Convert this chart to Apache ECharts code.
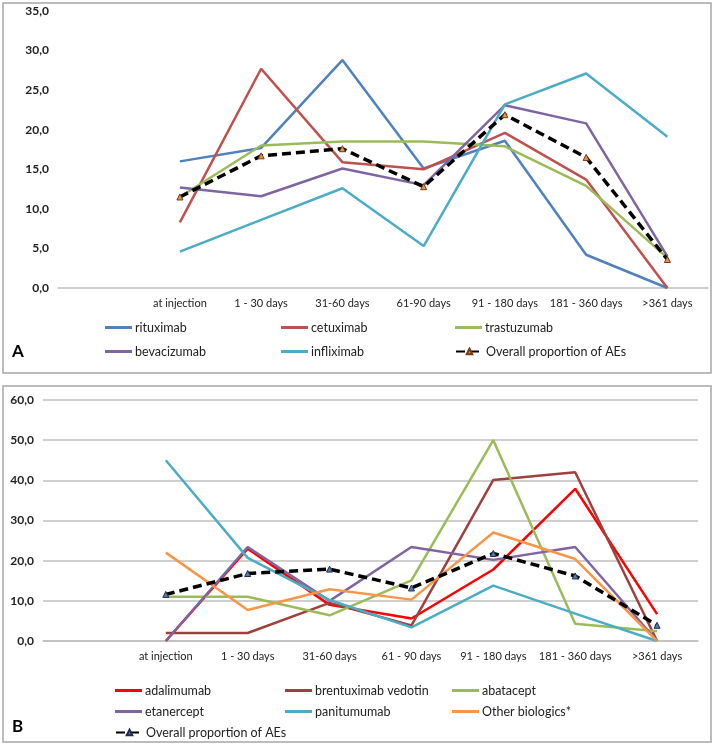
<!DOCTYPE html>
<html lang="en">
<head>
    <meta charset="utf-8" />
    <title>AEs by time after injection</title>
    <script type="text/javascript" src="https://cdn.jsdelivr.net/npm/echarts@6/dist/echarts.min.js"></script>
    <style type="text/css">
        html, body { margin: 0; padding: 0; background: #fff; }
    </style>
</head>
<body>
    <div id="main" style="width:714px;height:746px;"></div>
    <script type="text/javascript">
        // categories (first slot is blank, as in the original sheet)
        var catsA = ['', 'at injection', '1 - 30 days', '31-60 days', '61-90 days', '91 - 180 days', '181 - 360 days', '>361 days'];
        var catsB = ['', 'at injection', '1 - 30 days', '31-60 days', '61 - 90 days', '91 - 180 days', '181 - 360 days', '>361 days'];
        var yTicksA = [0, 5, 10, 15, 20, 25, 30, 35];
        var yTicksB = [0, 10, 20, 30, 40, 50, 60];

        // panel A
        var rituximab   = [null, 16.0, 17.7, 28.8, 15.1, 18.6, 4.2, 0];
        var cetuximab   = [null, 8.3, 27.7, 15.9, 15.0, 19.6, 13.7, 0];
        var trastuzumab = [null, 11.5, 18.0, 18.5, 18.5, 17.9, 12.9, 3.8];
        var bevacizumab = [null, 12.7, 11.6, 15.1, 13.0, 23.1, 20.8, 4.0];
        var infliximab  = [null, 4.6, 8.6, 12.6, 5.3, 23.2, 27.1, 19.1];
        var overallA    = [null, 11.5, 16.7, 17.6, 12.8, 21.9, 16.5, 3.6];

        // panel B
        var adalimumab  = [null, 0, 23.0, 9.0, 5.6, 17.8, 37.9, 6.7];
        var brentuximab = [null, 2.0, 2.0, 9.5, 3.9, 40.1, 42.0, 0];
        var abatacept   = [null, 11.0, 11.0, 6.4, 15.1, 50.0, 4.3, 2.4];
        var etanercept  = [null, 0, 23.4, 10.0, 23.4, 20.2, 23.4, 0];
        var panitumumab = [null, 45.0, 20.7, 10.2, 3.4, 13.8, 6.8, 0];
        var otherBio    = [null, 22.0, 7.7, 12.9, 10.3, 27.0, 20.4, 0];
        var overallB    = [null, 11.6, 16.8, 17.9, 13.2, 21.8, 16.2, 3.9];

        var font = 'Lato, "Open Sans", sans-serif';
        var myChart = echarts.init(document.getElementById('main'));

        function fmt(v) { return v.toFixed(1).replace('.', ','); }

        function plain(name, data, color, idx) {
            return {
                name: name, type: 'line', data: data,
                xAxisIndex: idx, yAxisIndex: idx,
                symbol: 'none', animation: false,
                lineStyle: { color: color, width: 2.5 },
                itemStyle: { color: color }
            };
        }
        function overall(name, data, idx, fill, edge) {
            return {
                name: name, type: 'line', data: data,
                xAxisIndex: idx, yAxisIndex: idx,
                symbol: 'triangle', symbolSize: 6, animation: false,
                lineStyle: { color: '#000', width: 3.5, type: [9, 5] },
                itemStyle: { color: fill, borderColor: edge, borderWidth: 1 }
            };
        }
        function leg(name, left, top, dashed) {
            var l = {
                data: [name], left: left, top: top,
                itemWidth: 27, itemHeight: dashed ? 7 : 3, itemGap: 2,
                selectedMode: false,
                textStyle: { fontFamily: font, fontSize: 12.5, color: '#222', padding: [0, 0, 0, -2] }
            };
            if (!dashed) l.icon = 'rect';
            return l;
        }
        function xAx(cats, idx) {
            return {
                type: 'category', data: cats, gridIndex: idx,
                axisTick: { show: false },
                axisLine: { lineStyle: { color: '#BFBFBF', width: 1.5 } },
                axisLabel: { interval: 0, margin: 10, fontFamily: font, fontSize: 11, color: '#222' }
            };
        }
        function yAx(ticks, idx, grid) {
            return {
                type: 'value', gridIndex: idx,
                min: ticks[0], max: ticks[ticks.length - 1], interval: ticks[1] - ticks[0],
                axisLine: { show: false }, axisTick: { show: false },
                splitLine: { show: grid, lineStyle: { color: '#BFBFBF', width: 1.5 } },
                axisLabel: { formatter: fmt, margin: 9, fontFamily: font, fontSize: 12, fontWeight: 'bold', color: '#222' }
            };
        }

        var option = {
            backgroundColor: '#fff',
            animation: false,
            graphic: [
                { type: 'rect', shape: { x: 3, y: 3, width: 708, height: 370 }, style: { fill: 'none', stroke: '#A6A6A6', lineWidth: 1.5 } },
                { type: 'rect', shape: { x: 3, y: 386, width: 708, height: 356 }, style: { fill: 'none', stroke: '#A6A6A6', lineWidth: 1.5 } },
                { type: 'text', left: 12, top: 343, style: { text: 'A', font: 'bold 17px ' + font, fill: '#000' } },
                { type: 'text', left: 12, top: 718, style: { text: 'B', font: 'bold 17px ' + font, fill: '#000' } }
            ],
            grid: [
                { left: 58, right: 6, top: 11, bottom: 458 },
                { left: 43, right: 16, top: 400, bottom: 105 }
            ],
            xAxis: [xAx(catsA, 0), xAx(catsB, 1)],
            yAxis: [yAx(yTicksA, 0, false), yAx(yTicksB, 1, true)],
            legend: [
                leg('rituximab', 100, 316), leg('cetuximab', 276, 316), leg('trastuzumab', 450, 316),
                leg('bevacizumab', 100, 340), leg('infliximab', 276, 340), leg('Overall proportion of AEs', 450, 340, true),
                leg('adalimumab', 110, 679), leg('brentuximab vedotin', 280, 679), leg('abatacept', 447, 679),
                leg('etanercept', 110, 700), leg('panitumumab', 280, 700), leg('Other biologics*', 447, 700),
                leg('Overall proportion of AEs ', 110, 721, true)
            ],
            series: [
                plain('rituximab', rituximab, '#4F81BD', 0),
                plain('cetuximab', cetuximab, '#C0504D', 0),
                plain('trastuzumab', trastuzumab, '#9BBB59', 0),
                plain('bevacizumab', bevacizumab, '#8064A2', 0),
                plain('infliximab', infliximab, '#4BACC6', 0),
                overall('Overall proportion of AEs', overallA, 0, '#E8954A', '#7A3A10'),

                plain('adalimumab', adalimumab, '#FF0000', 1),
                plain('brentuximab vedotin', brentuximab, '#A0403E', 1),
                plain('abatacept', abatacept, '#9BBB59', 1),
                plain('etanercept', etanercept, '#8064A2', 1),
                plain('panitumumab', panitumumab, '#4BACC6', 1),
                plain('Other biologics*', otherBio, '#F79646', 1),
                overall('Overall proportion of AEs ', overallB, 1, '#5A7AA8', '#1F2F4F')
            ]
        };
        myChart.setOption(option);
    </script>
</body>
</html>
